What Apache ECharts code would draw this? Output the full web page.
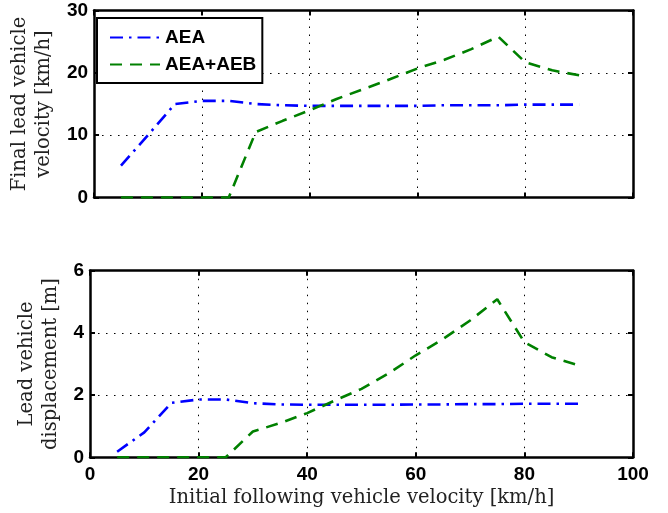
<!DOCTYPE html>
<html>
<head>
<meta charset="utf-8">
<script src="https://cdn.jsdelivr.net/npm/echarts@6/dist/echarts.min.js"></script>
<style>
  html, body { margin: 0; padding: 0; background: #fff; }
  #chart { width: 668px; height: 513px; }
</style>
</head>
<body>
<div id="chart"></div>
<script>
// Initial following vehicle velocity [km/h]
var speeds = [5, 10, 15, 20, 25, 30, 35, 40, 45, 50, 55, 60, 65, 70, 75, 80, 85, 90];

// Final lead vehicle velocity [km/h]
var velAEA    = [5.1, 10.0, 15.0, 15.5, 15.5, 15.0, 14.8, 14.7, 14.7, 14.7, 14.7, 14.7, 14.8, 14.8, 14.8, 14.9, 14.9, 14.9];
var velAEAAEB = [0, 0, 0, 0, 0, 10.5, 12.3, 14.0, 15.8, 17.4, 19.0, 20.7, 22.1, 23.8, 25.8, 21.7, 20.4, 19.6];

// Lead vehicle displacement [m]
var dispAEA    = [0.18, 0.8, 1.75, 1.86, 1.86, 1.74, 1.70, 1.69, 1.69, 1.69, 1.69, 1.70, 1.70, 1.71, 1.71, 1.72, 1.72, 1.72];
var dispAEAAEB = [0, 0, 0, 0, 0, 0.83, 1.1, 1.42, 1.82, 2.2, 2.7, 3.28, 3.8, 4.4, 5.08, 3.7, 3.22, 2.96];

function pairs(ys) {
  return speeds.map(function (x, i) { return [x, ys[i]]; });
}

var tickFont = { fontFamily: 'Liberation Sans', fontWeight: 'bold', fontSize: 19, color: '#000' };
var nameFont = { fontFamily: 'DejaVu Serif', fontWeight: 'normal', fontSize: 19.5, color: '#222', lineHeight: 24 };
var dotted = { show: true, lineStyle: { color: '#000', width: 1, type: [1.5, 6.5] } };
var frame = { show: true, onZero: false, lineStyle: { color: '#000', width: 2.5 } };
var tickIn = { show: true, inside: true, length: 5, lineStyle: { color: '#000', width: 2 } };

function xAxisFor(grid, pos, labels, name) {
  return {
    type: 'value', gridIndex: grid, position: pos, min: 0, max: 100, interval: 20,
    axisLine: frame, axisTick: tickIn,
    axisLabel: labels ? Object.assign({ margin: 8 }, tickFont) : { show: false },
    splitLine: pos === 'bottom' ? dotted : { show: false },
    name: name || '', nameLocation: 'middle', nameGap: 29, nameTextStyle: nameFont
  };
}

function yAxisFor(grid, pos, max, interval, name) {
  var left = pos === 'left';
  return {
    type: 'value', gridIndex: grid, position: pos, min: 0, max: max, interval: interval,
    axisLine: frame, axisTick: tickIn,
    axisLabel: left ? Object.assign({ margin: 6 }, tickFont) : { show: false },
    splitLine: left ? dotted : { show: false },
    name: name || '', nameLocation: 'middle', nameGap: 27, nameRotate: 90, nameTextStyle: nameFont
  };
}

var blueStyle = { color: '#0000ff', width: 2.6, type: [13, 6, 2.5, 6] };
var greenStyle = { color: '#008000', width: 2.6, type: [12, 8] };

var chart = echarts.init(document.getElementById('chart'), null, { renderer: 'canvas' });
chart.setOption({
  animation: false,
  backgroundColor: '#fff',
  grid: [
    { left: 90, top: 10.5, width: 543, height: 187 },
    { left: 90, top: 270.7, width: 543, height: 186.6 }
  ],
  legend: {
    show: true, orient: 'vertical', left: 97, top: 18,
    data: ['AEA', 'AEA+AEB'],
    itemWidth: 50, itemHeight: 14, itemGap: 8,
    padding: [10, 6, 9, 12],
    backgroundColor: '#fff', borderColor: '#000', borderWidth: 2,
    itemStyle: { opacity: 0 },
    textStyle: { fontFamily: 'Liberation Sans', fontWeight: 'bold', fontSize: 19, color: '#000' }
  },
  xAxis: [
    xAxisFor(0, 'bottom', false),
    xAxisFor(0, 'top', false),
    xAxisFor(1, 'bottom', true, 'Initial following vehicle velocity [km/h]'),
    xAxisFor(1, 'top', false)
  ],
  yAxis: [
    yAxisFor(0, 'left', 30, 10, 'Final lead vehicle\nvelocity [km/h]'),
    yAxisFor(0, 'right', 30, 10),
    yAxisFor(1, 'left', 6, 2, 'Lead vehicle\ndisplacement [m]'),
    yAxisFor(1, 'right', 6, 2)
  ],
  series: [
    { name: 'AEA', type: 'line', xAxisIndex: 0, yAxisIndex: 0, data: pairs(velAEA),
      showSymbol: false, symbol: 'none', lineStyle: blueStyle, itemStyle: { color: '#0000ff' } },
    { name: 'AEA+AEB', type: 'line', xAxisIndex: 0, yAxisIndex: 0, data: pairs(velAEAAEB),
      showSymbol: false, symbol: 'none', lineStyle: greenStyle, itemStyle: { color: '#008000' } },
    { name: 'AEA', type: 'line', xAxisIndex: 2, yAxisIndex: 2, data: pairs(dispAEA),
      showSymbol: false, symbol: 'none', lineStyle: blueStyle, itemStyle: { color: '#0000ff' } },
    { name: 'AEA+AEB', type: 'line', xAxisIndex: 2, yAxisIndex: 2, data: pairs(dispAEAAEB),
      showSymbol: false, symbol: 'none', lineStyle: greenStyle, itemStyle: { color: '#008000' } }
  ]
});
</script>
</body>
</html>
